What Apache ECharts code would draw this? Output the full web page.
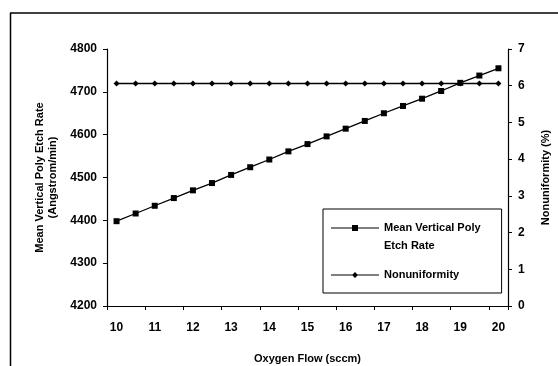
<!DOCTYPE html>
<html>
<head>
<meta charset="utf-8">
<script src="https://cdn.jsdelivr.net/npm/echarts@6/dist/echarts.min.js"></script>
<style>
html,body{margin:0;padding:0;background:#fff;}
#c{width:558px;height:366px;}
</style>
</head>
<body>
<div id="c"></div>
<script>
const categories = ['10','10.5','11','11.5','12','12.5','13','13.5','14','14.5','15','15.5','16','16.5','17','17.5','18','18.5','19','19.5','20'];
const etchRate = [4398,4416,4434,4452,4470,4487,4506,4524,4542,4561,4578,4596,4614,4632,4650,4667,4684,4702,4721,4738,4755];
const nonuniformity = [6.06,6.06,6.06,6.06,6.06,6.06,6.06,6.06,6.06,6.06,6.06,6.06,6.06,6.06,6.06,6.06,6.06,6.06,6.06,6.06,6.06];
const leftTicks = {min:4200, max:4800, interval:100};
const rightTicks = {min:0, max:7, interval:1};
const names = ['Mean Vertical Poly\nEtch Rate', 'Nonuniformity'];

const FONT = '"Liberation Sans", Arial, sans-serif';
// legend icons: line + marker inside a 48x26 box (moveTo points fix the box)
const iconEtch = 'path://M0,0 M48,26 M0,3.4 L48,3.4 L48,4.6 L0,4.6 Z M21,1 L27,1 L27,7 L21,7 Z';
const iconNonu = 'path://M0,0 M48,26 M0,12.4 L48,12.4 L48,13.6 L0,13.6 Z M24,10 L27,13 L24,16 L21,13 Z';

const chart = echarts.init(document.getElementById('c'), null, {renderer:'canvas'});
const axisCommon = {
  axisLine:{show:true, lineStyle:{color:'#000', width:1.2}},
  axisTick:{show:true, length:4, lineStyle:{color:'#000', width:1}},
  splitLine:{show:false},
  axisLabel:{color:'#000', fontFamily:FONT, fontSize:12, fontWeight:'bold'},
  nameTextStyle:{color:'#000', fontFamily:FONT, fontSize:11, fontWeight:'bold'}
};
chart.setOption({
  animation:false,
  backgroundColor:'#fff',
  grid:{left:107, right:50, top:49, bottom:60, containLabel:false, outerBoundsMode:'none'},
  xAxis:{
    type:'category', data:categories, boundaryGap:true,
    name:'Oxygen Flow (sccm)', nameLocation:'middle', nameGap:47,
    axisLine:axisCommon.axisLine,
    axisTick:{show:true, length:4, interval:1, lineStyle:{color:'#000', width:1}},
    axisLabel:Object.assign({}, axisCommon.axisLabel, {interval:1, margin:16}),
    nameTextStyle:axisCommon.nameTextStyle,
    splitLine:{show:false}
  },
  yAxis:[
    Object.assign({}, axisCommon, {
      type:'value', min:leftTicks.min, max:leftTicks.max, interval:leftTicks.interval, position:'left',
      name:'Mean Vertical Poly Etch Rate\n(Angstrom/min)', nameLocation:'middle', nameGap:46, nameRotate:90,
      nameTextStyle:Object.assign({}, axisCommon.nameTextStyle, {lineHeight:13}),
      axisLabel:Object.assign({}, axisCommon.axisLabel, {margin:10, formatter:function(v){return String(v);}})
    }),
    Object.assign({}, axisCommon, {
      type:'value', min:rightTicks.min, max:rightTicks.max, interval:rightTicks.interval, position:'right',
      name:'Nonuniformity (%)', nameLocation:'middle', nameGap:32, nameRotate:90,
      axisLabel:Object.assign({}, axisCommon.axisLabel, {margin:10})
    })
  ],
  legend:{
    orient:'vertical', left:323, top:209,
    backgroundColor:'#fff', borderColor:'#000', borderWidth:1,
    padding:[10, 21, 5, 8], itemGap:7, itemWidth:48, itemHeight:26,
    textStyle:{color:'#000', fontFamily:FONT, fontSize:11, fontWeight:'bold', lineHeight:18},
    data:[
      {name:names[0], icon:iconEtch},
      {name:names[1], icon:iconNonu}
    ]
  },
  series:[
    {name:names[0], type:'line', yAxisIndex:0, data:etchRate, symbol:'rect', symbolSize:6,
     lineStyle:{color:'#000', width:1.3}, itemStyle:{color:'#000'}},
    {name:names[1], type:'line', yAxisIndex:1, data:nonuniformity, symbol:'diamond', symbolSize:6,
     lineStyle:{color:'#000', width:1.3}, itemStyle:{color:'#000'}}
  ],
  graphic:[
    {type:'line', shape:{x1:10, y1:13, x2:558, y2:13}, style:{stroke:'#000', lineWidth:1.5}},
    {type:'line', shape:{x1:10.5, y1:13, x2:10.5, y2:366}, style:{stroke:'#000', lineWidth:1.5}}
  ]
});
</script>
</body>
</html>
